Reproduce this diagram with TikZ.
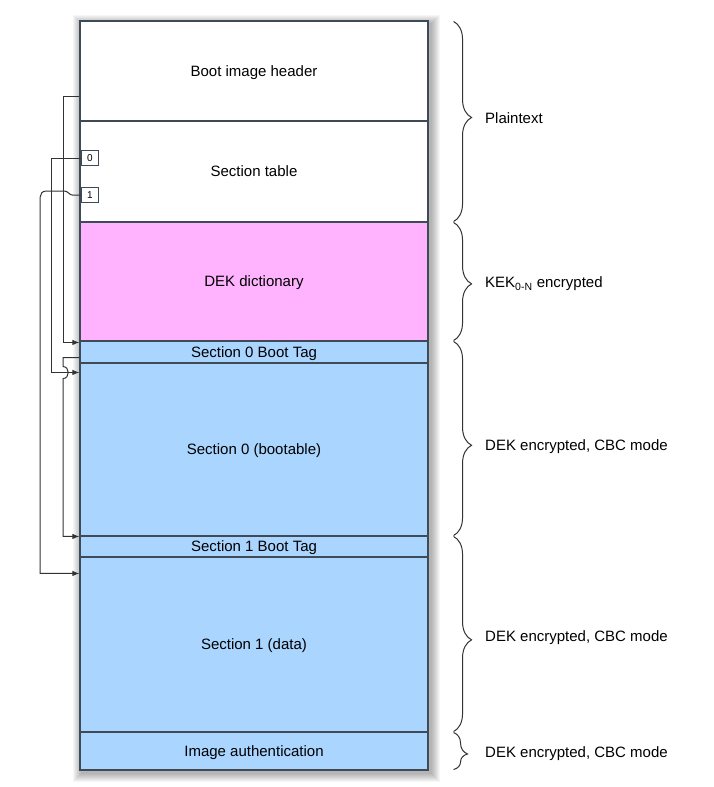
\documentclass[tikz,border=0pt]{standalone}
\usepackage{fontspec}
\setmainfont{Liberation Sans}
\usetikzlibrary{arrows.meta,decorations.pathreplacing}

\definecolor{edgegray}{HTML}{3E4A57}
\definecolor{dekpink}{HTML}{FFB3FF}
\definecolor{secblue}{HTML}{A9D5FF}
\definecolor{wire}{HTML}{333333}

\begin{document}
\begin{tikzpicture}[x=1pt,y=-1pt,
    row/.style={draw=edgegray, line width=1.1pt, minimum width=348pt, inner sep=0pt,
      text depth=0pt, font=\fontsize{15}{17}\selectfont},
    idx/.style={draw=edgegray, fill=white, line width=0.6pt, minimum width=17pt,
      minimum height=15pt, inner sep=0pt, font=\fontsize{10}{11}\selectfont},
    conn/.style={draw=wire, line width=1pt},
    arr/.style={conn, -{Latex[length=7pt,width=5.5pt]}},
    brc/.style={draw=wire, line width=1pt, decorate},
    lbl/.style={anchor=west, inner sep=0pt, font=\fontsize{15}{17}\selectfont}]

                \useasboundingbox[fill=white] (0,0) rectangle (714,787);

                % Shadow
                \foreach \s in {1,...,9}
                  \fill[black, opacity=0.035] ({80-\s+2},{21-\s+3}) rectangle ({428+\s+3},{770+\s+3});

                % Nodes
                \node[row, fill=white,   minimum height=100pt] (hdr)  at (254,71)    {Boot image header};
                \node[row, fill=white,   minimum height=101pt] (tbl)  at (254,171.5) {Section table};
                \node[row, fill=dekpink, minimum height=119pt] (dek)  at (254,281.5) {DEK dictionary};
                \node[row, fill=secblue, minimum height=22pt]  (tag0) at (254,352)   {Section 0 Boot Tag};
                \node[row, fill=secblue, minimum height=173pt] (sec0) at (254,449.5) {Section 0 (bootable)};
                \node[row, fill=secblue, minimum height=21pt]  (tag1) at (254,546.5) {Section 1 Boot Tag};
                \node[row, fill=secblue, minimum height=175pt] (sec1) at (254,644.5) {Section 1 (data)};
                \node[row, fill=secblue, minimum height=38pt]  (auth) at (254,751)   {Image authentication};

                \node[lbl] (plain) at (485,118) {Plaintext};
                \node[lbl] (kek)   at (485,284) {KEK\textsubscript{0-N} encrypted};
                \node[lbl] (enc0)  at (485,447) {DEK encrypted, CBC mode};
                \node[lbl] (enc1)  at (485,638) {DEK encrypted, CBC mode};
                \node[lbl] (enc2)  at (485,754) {DEK encrypted, CBC mode};

                % Braces
                \draw[brc, decoration={brace, amplitude=18pt, aspect=0.48}]
                  ([xshift=25pt,yshift=-1pt]hdr.north east) -- ([xshift=25pt,yshift=1pt]tbl.south east);
                \draw[brc, decoration={brace, amplitude=18pt, aspect=0.52}]
                  ([xshift=25pt,yshift=-1pt]dek.north east) -- ([xshift=25pt,yshift=1pt]dek.south east);
                \draw[brc, decoration={brace, amplitude=18pt, aspect=0.535}]
                  ([xshift=25pt,yshift=-1pt]tag0.north east) -- ([xshift=25pt,yshift=1pt]sec0.south east);
                \draw[brc, decoration={brace, amplitude=18pt, aspect=0.53}]
                  ([xshift=25pt,yshift=-1pt]tag1.north east) -- ([xshift=25pt,yshift=1pt]sec1.south east);
                \draw[brc, decoration={brace, amplitude=14pt, aspect=0.58}]
                  ([xshift=25pt,yshift=-1pt]auth.north east) -- ([xshift=25pt,yshift=1pt]auth.south east);

                % Lanes and ends
                \coordinate (laneA) at (63,0);
                \coordinate (laneB) at (51,0);
                \coordinate (hsrc) at ([yshift=25pt]hdr.south west);
                \coordinate (t0dst) at ([yshift=-2pt]tag0.north west);
                \coordinate (t0src) at ([yshift=6pt]tag0.south west);
                \coordinate (s0dst) at ([yshift=-10pt]sec0.north west);
                \coordinate (t1dst) at ([yshift=-1pt]tag1.north west);
                \coordinate (s1dst) at ([yshift=-17pt]sec1.north west);

                % Edges
                \draw[arr] (hsrc) -- (hsrc -| laneA) -- (t0dst -| laneA) -- (t0dst);
                \draw[arr] (t0src) -- (t0src -| laneA) -- ++(0,9)
                  .. controls +(7,0) and +(7,0) .. ++(0,12) |- (t1dst);

                \node[idx] (b0) at (90,158) {0};
                \node[idx] (b1) at (90,195) {1};

                \draw[arr] (b0.west) -- (b0.west -| laneB) |- (s0dst);
                \draw[arr] (b1.west) -- ++(-9,0) .. controls +(-3,0) and +(4,0) .. ++(-8,-4)
                  -- ++(-18,0) .. controls +(-4,0) and +(0,-3) .. ++(-6,6) |- (s1dst);
            \end{tikzpicture}
\end{document}
